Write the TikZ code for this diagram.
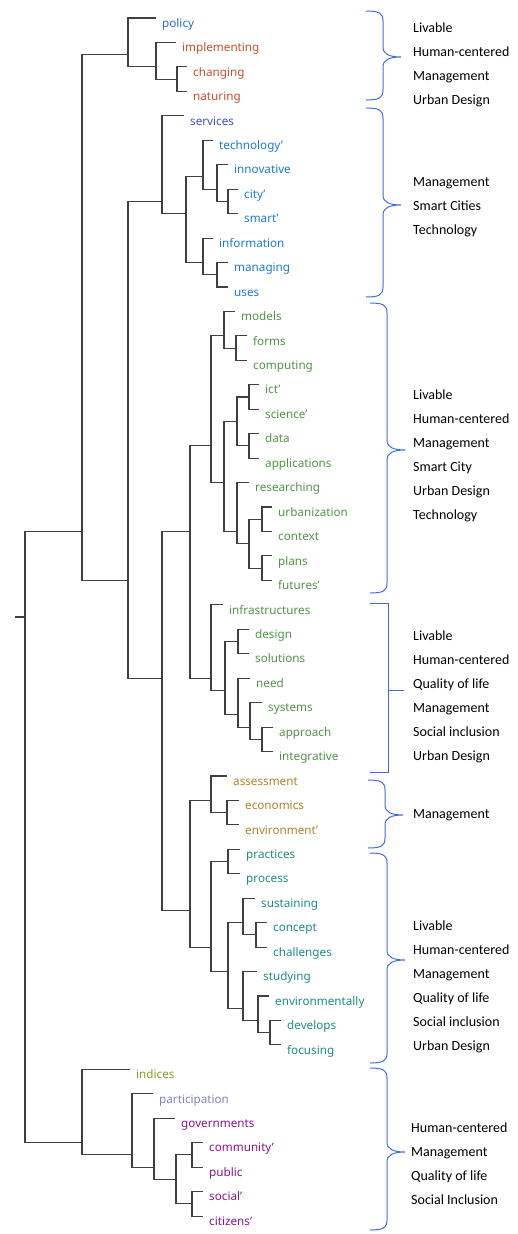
\documentclass[tikz,border=0pt]{standalone}
\usepackage{fontspec}
\setmainfont{Noto Sans}
\newfontfamily\topicfont{Carlito}
\definecolor{cpolicy}{RGB}{45,110,215}
\definecolor{cchange}{RGB}{200,80,40}
\definecolor{cserv}{RGB}{60,80,200}
\definecolor{ctech}{RGB}{30,120,220}
\definecolor{cmodel}{RGB}{80,150,70}
\definecolor{cecon}{RGB}{175,130,40}
\definecolor{cpract}{RGB}{30,140,130}
\definecolor{cindex}{RGB}{140,150,40}
\definecolor{cpart}{RGB}{130,130,200}
\definecolor{cgov}{RGB}{140,20,150}
\definecolor{cbrace}{RGB}{60,110,220}
% curly brace: end x, top y, tip y, bottom y
\newcommand{\topicbrace}[4]{%
  \draw[brace] (#1,#2) .. controls (#1+13,#2) and (#1+17,#2+2) .. (#1+17,#2+10)
    -- (#1+17,#3-10) .. controls (#1+17,#3-3) and (#1+23,#3) .. (#1+35,#3)
    .. controls (#1+23,#3) and (#1+17,#3+3) .. (#1+17,#3+10)
    -- (#1+17,#4-10) .. controls (#1+17,#4-2) and (#1+13,#4) .. (#1,#4);}
\begin{document}
\begin{tikzpicture}[x=1pt,y=-1pt,
  declare function={ry(\m)=18+24.45*\m;},
  leaf/.style={anchor=north west,inner xsep=6pt,inner ysep=0pt,text height=9pt,text depth=3pt,
    font=\fontsize{11.7}{14}\selectfont},
  link/.style={draw=black!75,line width=1.1pt},
  brace/.style={draw=cbrace,line width=1pt},
  topics/.style={anchor=west,align=left,inner sep=0pt,font=\topicfont\fontsize{14}{24}\selectfont}]
\useasboundingbox (0,0) rectangle (518,1234);
% leaves
\foreach \nm/\txt/\x/\col [count=\i from 0] in {
  policy/policy/156/cpolicy, implementing/implementing/176/cchange,
  changing/changing/187/cchange, naturing/naturing/187/cchange,
  services/services/184/cserv, technology/technology'/213/ctech,
  innovative/innovative/228/ctech, city/city'/238/ctech, smart/smart'/238/ctech,
  information/information/213/ctech, managing/managing/228/ctech, uses/uses/228/ctech,
  models/models/235/cmodel, forms/forms/247/cmodel, computing/computing/247/cmodel,
  ict/ict'/259/cmodel, science/science'/259/cmodel, data/data/259/cmodel,
  applications/applications/259/cmodel, researching/researching/249/cmodel,
  urbanization/urbanization/272/cmodel, context/context/272/cmodel,
  plans/plans/272/cmodel, futures/futures'/272/cmodel,
  infrastructures/infrastructures/223/cmodel, design/design/249/cmodel,
  solutions/solutions/249/cmodel, need/need/250/cmodel, systems/systems/262/cmodel,
  approach/approach/273/cmodel, integrative/integrative/273/cmodel,
  assessment/assessment/227/cecon, economics/economics/239/cecon,
  environment/environment'/239/cecon,
  practices/practices/240/cpract, process/process/240/cpract,
  sustaining/sustaining/255/cpract, concept/concept/267/cpract,
  challenges/challenges/267/cpract, studying/studying/257/cpract,
  environmentally/environmentally/269/cpract, develops/develops/281/cpract,
  focusing/focusing/281/cpract,
  indices/indices/130/cindex, participation/participation/153/cpart,
  governments/governments/175/cgov, community/community'/203/cgov,
  public/public/203/cgov, social/social'/203/cgov, citizens/citizens'/203/cgov}
  \node[leaf,text=\col] (\nm) at (\x,{ry(\i)}) {\txt};
% joins: x = height, y = mean of leaves
\foreach \nm/\x/\m in {root/25/24.5, AB/82/21, Z/82/46,
  A/128/1.5, IM/156/2, CN/177/2.5,
  BG/128/23, S/162/7.5, T/186/8, TI/203/6.5, ICS/217/7, CS/228/7.5, IMU/203/10, MU/217/10.5,
  G/162/27, H/190/21, H1/211/17.5, H1a/224/13, FC/236/13.5, H1b/224/19,
  H1b1/237/16.5, IS/249/15.5, DA/249/17.5, H1b2/237/21, UCPF/249/21.5, UC/262/20.5, PF/262/22.5,
  H2/211/27, H2b/225/27.5, DS/238/25.5, NSAI/238/28.5, SAI/250/29, AI/262/29.5,
  K/190/36.5, K1/211/32, EE/227/32.5, K2/211/38, PP/228/34.5, K2b/228/39,
  SCC/243/37, CC/256/37.5, SEDF/243/40.5, EDF/258/41, DF/270/41.5,
  P/132/46.5, Q/154/47, R/176/47.5, CP/192/46.5, SC/192/48.5}
  \coordinate (\nm) at (\x,{ry(\m)});
\coordinate (stem) at (15,{ry(24.5)});
\draw[link] (stem) -- (root);
\foreach \p/\a/\b in {root/AB/Z, AB/A/BG,
  A/policy.north west/IM, IM/implementing.north west/CN,
  CN/changing.north west/naturing.north west,
  BG/S/G, S/services.north west/T, T/TI/IMU,
  TI/technology.north west/ICS, ICS/innovative.north west/CS,
  CS/city.north west/smart.north west,
  IMU/information.north west/MU, MU/managing.north west/uses.north west,
  G/H/K, H/H1/H2, H1/H1a/H1b, H1a/models.north west/FC,
  FC/forms.north west/computing.north west,
  H1b/H1b1/H1b2, H1b1/IS/DA, IS/ict.north west/science.north west,
  DA/data.north west/applications.north west,
  H1b2/researching.north west/UCPF, UCPF/UC/PF,
  UC/urbanization.north west/context.north west, PF/plans.north west/futures.north west,
  H2/infrastructures.north west/H2b, H2b/DS/NSAI,
  DS/design.north west/solutions.north west, NSAI/need.north west/SAI,
  SAI/systems.north west/AI, AI/approach.north west/integrative.north west,
  K/K1/K2, K1/assessment.north west/EE, EE/economics.north west/environment.north west,
  K2/PP/K2b, PP/practices.north west/process.north west, K2b/SCC/SEDF,
  SCC/sustaining.north west/CC, CC/concept.north west/challenges.north west,
  SEDF/studying.north west/EDF, EDF/environmentally.north west/DF,
  DF/develops.north west/focusing.north west,
  Z/indices.north west/P, P/participation.north west/Q, Q/governments.north west/R,
  R/CP/SC, CP/community.north west/public.north west, SC/social.north west/citizens.north west}
  \draw[link] (\a) -| (\p) |- (\b);
% topic braces
\topicbrace{366}{11}{57}{100}
\topicbrace{366}{108}{205}{297}
\topicbrace{370}{303}{450}{593}
\draw[brace] (370,603) -- (388,603) -- (388,772) -- (370,772);
\draw[brace] (388,690) -- (404,690);
\topicbrace{368}{780}{815}{848}
\topicbrace{370}{853}{960}{1063}
\topicbrace{370}{1068}{1152}{1230}
\node[topics] (t1) at (413,65) {Livable\\Human-centered\\Management\\Urban Design};
\node[topics] (t2) at (413,207) {Management\\Smart Cities\\Technology};
\node[topics] (t3) at (413,456) {Livable\\Human-centered\\Management\\Smart City\\Urban Design\\Technology};
\node[topics] (t4) at (413,697) {Livable\\Human-centered\\Quality of life\\Management\\Social inclusion\\Urban Design};
\node[topics] (t5) at (413,815) {Management};
\node[topics] (t6) at (413,987) {Livable\\Human-centered\\Management\\Quality of life\\Social inclusion\\Urban Design};
\node[topics] (t7) at (411,1164) {Human-centered\\Management\\Quality of life\\Social Inclusion};
\end{tikzpicture}
\end{document}
